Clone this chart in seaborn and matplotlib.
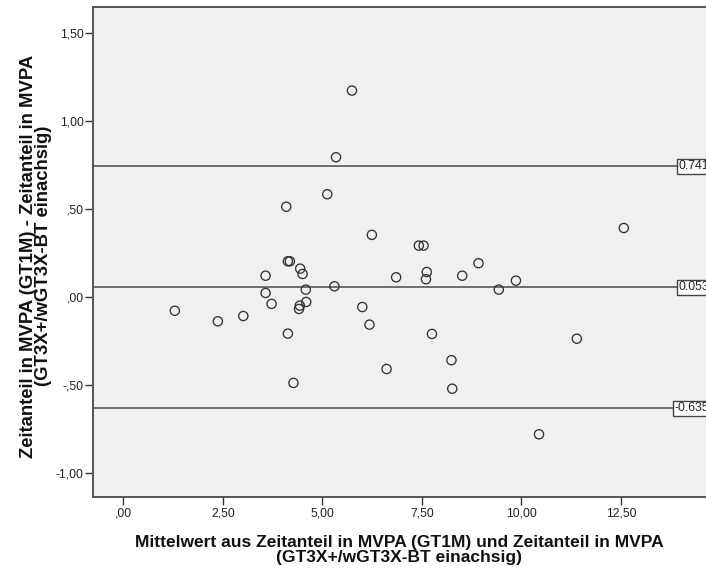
import matplotlib
matplotlib.use("Agg")
import matplotlib.pyplot as plt
import seaborn as sns
import pandas as pd

# ---- data ----
mean_values = [1.29, 2.37, 3.01, 3.57, 3.57, 3.72, 4.09, 4.13, 4.18, 4.13,
               4.27, 4.41, 4.43, 4.44, 4.50, 4.58, 4.59, 5.12, 5.30, 5.34,
               5.74, 6.00, 6.18, 6.24, 6.61, 6.85, 7.42, 7.54, 7.60, 7.62,
               7.75, 8.24, 8.26, 8.51, 8.92, 9.43, 9.86, 10.44, 11.39, 12.57]
diff_values = [-0.080, -0.140, -0.110, 0.119, 0.021, -0.041, 0.511, 0.201, 0.201, -0.210,
               -0.490, -0.070, -0.051, 0.159, 0.129, 0.040, -0.030, 0.582, 0.059, 0.792,
               1.171, -0.059, -0.159, 0.351, -0.411, 0.110, 0.290, 0.290, 0.099, 0.140,
               -0.212, -0.361, -0.523, 0.119, 0.190, 0.040, 0.091, -0.782, -0.239, 0.390]
ref_values = [0.741, 0.053, -0.635]
ref_labels = ["0.741", "0.053", "-0.635"]
x_ticks = [0.0, 2.5, 5.0, 7.5, 10.0, 12.5]
x_tick_labels = [",00", "2,50", "5,00", "7,50", "10,00", "12,50"]
y_ticks = [-1.0, -0.5, 0.0, 0.5, 1.0, 1.5]
y_tick_labels = ["-1,00", "-,50", ",00", ",50", "1,00", "1,50"]
x_label = "Mittelwert aus Zeitanteil in MVPA (GT1M) und Zeitanteil in MVPA\n(GT3X+/wGT3X-BT einachsig)"
y_label = "Zeitanteil in MVPA (GT1M) - Zeitanteil in MVPA\n(GT3X+/wGT3X-BT einachsig)"

df = pd.DataFrame({"mean": mean_values, "diff": diff_values})

sns.set_theme(style="ticks")
plt.rcParams["font.family"] = ["Liberation Sans", "DejaVu Sans"]

W, H = 706, 572
fig = plt.figure(figsize=(W / 100, H / 100), dpi=100)
fig.patch.set_facecolor("white")

ax_left, ax_right, ax_top, ax_bottom = 92.7, 712.0, 7.3, 497.3
ax = fig.add_axes([ax_left / W, 1 - ax_bottom / H,
                   (ax_right - ax_left) / W, (ax_bottom - ax_top) / H])
ax.set_facecolor("#F0F0F0")

sns.scatterplot(data=df, x="mean", y="diff", ax=ax, marker="o",
                s=44, facecolor="none", edgecolor="#333333", linewidth=0.95,
                zorder=3)

x0_px, sx = 123.5, 39.8
xmin = (ax_left - x0_px) / sx
xmax = (ax_right - x0_px) / sx
ax.set_xlim(xmin, xmax)
ax.set_ylim(-1.14, 1.644)

label_x = (709 - x0_px) / sx
for v, lab in zip(ref_values, ref_labels):
    ax.axhline(v, color="#4a4a4a", linewidth=1.1, zorder=2)
    ax.text(label_x, v, lab, ha="right", va="center", fontsize=8.8,
            color="#222222", zorder=4, clip_on=False,
            bbox=dict(boxstyle="square,pad=0.12", facecolor="white",
                      edgecolor="#444444", linewidth=1.0))

ax.set_xticks(x_ticks)
ax.set_xticklabels(x_tick_labels)
ax.set_yticks(y_ticks)
ax.set_yticklabels(y_tick_labels)
ax.tick_params(axis="both", direction="out", length=5.5, width=1.0,
               color="#333333", labelsize=8.8, labelcolor="#222222", pad=2)
ax.tick_params(axis="y", pad=1)
ax.set_xlabel("")
ax.set_ylabel("")

for name, sp in ax.spines.items():
    sp.set_color("#555555")
    sp.set_linewidth(1.4)
ax.spines["right"].set_visible(False)

fig.text(399 / W, 1 - 550 / H, x_label, ha="center", va="center",
         multialignment="center", fontsize=12.5, fontweight="bold",
         color="#111111", linespacing=0.98)
fig.text(36 / W, 1 - 256 / H, y_label, ha="center", va="center", rotation=90,
         multialignment="center", fontsize=13.3, fontweight="bold",
         color="#111111", linespacing=0.9)

fig.savefig("out.png", dpi=100, facecolor="white")
